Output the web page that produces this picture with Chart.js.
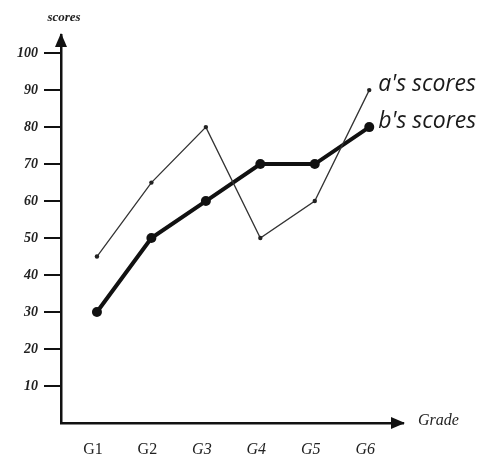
<!DOCTYPE html>
<html>
<head>
<meta charset="utf-8">
<script src="https://cdn.jsdelivr.net/npm/chart.js@4/dist/chart.umd.min.js"></script>
<style>
  html, body { margin: 0; padding: 0; background: #fff; }
  #wrap { width: 483px; height: 458px; position: relative; }
</style>
</head>
<body>
<div id="wrap"><canvas id="chart"></canvas></div>
<script>
// data
var grades = ['G1', 'G2', 'G3', 'G4', 'G5', 'G6'];
var aScores = [45, 65, 80, 50, 60, 90];
var bScores = [30, 50, 60, 70, 70, 80];
var yTicks = [10, 20, 30, 40, 50, 60, 70, 80, 90, 100];
var seriesNames = ["a's scores", "b's scores"];

function toPoints(arr) {
  return arr.map(function (v, i) { return { x: i + 1, y: v }; });
}

// arrows, axis names and the series labels at the line ends
var extras = {
  id: 'extras',
  afterDraw: function (chart) {
    var ctx = chart.ctx;
    var area = chart.chartArea;
    ctx.save();
    ctx.fillStyle = '#111';
    // y arrow
    ctx.beginPath();
    ctx.moveTo(area.left, area.top - 2);
    ctx.lineTo(area.left - 6, area.top + 12);
    ctx.lineTo(area.left + 6, area.top + 12);
    ctx.closePath();
    ctx.fill();
    // x arrow
    ctx.beginPath();
    ctx.moveTo(area.right + 2, area.bottom);
    ctx.lineTo(area.right - 12, area.bottom - 6);
    ctx.lineTo(area.right - 12, area.bottom + 6);
    ctx.closePath();
    ctx.fill();

    ctx.fillStyle = '#222';
    ctx.font = 'italic bold 13px "Liberation Serif"';
    ctx.textAlign = 'center';
    ctx.textBaseline = 'middle';
    ctx.fillText('scores', area.left + 3, 18);

    ctx.font = 'italic 16px "Liberation Serif"';
    ctx.textAlign = 'left';
    ctx.fillText('Grade', area.right + 15, area.bottom - 2);

    ctx.font = 'italic 23px "Open Sans"';
    ctx.fillStyle = '#1a1a1a';
    chart.data.datasets.forEach(function (ds, i) {
      var pts = chart.getDatasetMeta(i).data;
      var last = pts[pts.length - 1];
      ctx.fillText(seriesNames[i], last.x + 9, last.y - 6);
    });
    ctx.restore();
  }
};

new Chart(document.getElementById('chart'), {
  type: 'line',
  data: {
    datasets: [
      {
        label: seriesNames[0],
        data: toPoints(aScores),
        borderColor: '#333',
        backgroundColor: '#222',
        borderWidth: 1.3,
        pointRadius: 2.2,
        pointBorderWidth: 0,
        tension: 0
      },
      {
        label: seriesNames[1],
        data: toPoints(bScores),
        borderColor: '#111',
        backgroundColor: '#111',
        borderWidth: 4,
        pointRadius: 5,
        pointBorderWidth: 0,
        tension: 0
      }
    ]
  },
  options: {
    responsive: true,
    maintainAspectRatio: false,
    animation: false,
    clip: false,
    layout: { padding: { left: 0, right: 80, top: 35, bottom: 0 } },
    plugins: {
      legend: { display: false },
      tooltip: { enabled: false }
    },
    scales: {
      x: {
        type: 'linear',
        min: 0.34,
        max: 6.62,
        afterBuildTicks: function (scale) {
          scale.ticks = grades.map(function (g, i) { return { value: i + 1 }; });
        },
        afterFit: function (scale) { scale.height = 35; },
        grid: { display: false, drawTicks: false },
        border: { display: true, color: '#111', width: 2.5 },
        ticks: {
          padding: 17,
          labelOffset: -4,
          color: '#222',
          font: function (c) {
            return { family: 'Liberation Serif', size: 16, style: c.index > 1 ? 'italic' : 'normal' };
          },
          callback: function (v) { return grades[v - 1]; }
        }
      },
      y: {
        min: 0,
        max: 104.9,
        afterBuildTicks: function (scale) {
          scale.ticks = yTicks.map(function (v) { return { value: v }; });
        },
        afterFit: function (scale) { scale.width = 61; },
        grid: {
          drawOnChartArea: false,
          drawTicks: true,
          tickLength: 17,
          color: '#111',
          lineWidth: 2
        },
        border: { display: true, color: '#111', width: 2.5 },
        ticks: {
          padding: 6,
          color: '#222',
          font: { family: 'Liberation Serif', size: 14, style: 'italic', weight: 'bold' }
        }
      }
    }
  },
  plugins: [extras]
});
</script>
</body>
</html>
